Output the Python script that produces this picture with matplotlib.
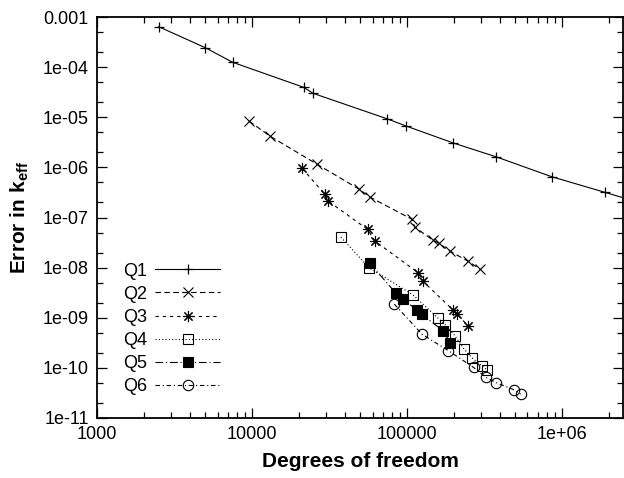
import matplotlib
matplotlib.use("Agg")
from matplotlib import pyplot as plt
from matplotlib.ticker import FixedLocator, FixedFormatter, LogLocator, NullFormatter

plt.rcParams['font.family'] = ['Liberation Sans', 'DejaVu Sans']
plt.rcParams['mathtext.fontset'] = 'custom'
plt.rcParams['mathtext.rm'] = 'Liberation Sans'
plt.rcParams['mathtext.bf'] = 'Liberation Sans:bold'

# values (dof, error in keff)
q1_dof = [2500, 5000, 7500, 21600, 24800, 74600, 98600, 197000, 375000, 861000, 1.9e6, 4.0e6]
q1_err = [6.4e-4, 2.44e-4, 1.25e-4, 3.95e-5, 3.0e-5, 9.3e-6, 6.7e-6, 3.1e-6, 1.63e-6, 6.5e-7, 3.17e-7, 1.6e-7]

q2_dof = [9570, 13060, 26250, 49000, 57700, 107200, 112600, 147200, 160800, 189400, 247600, 295800]
q2_err = [8.4e-6, 4.2e-6, 1.16e-6, 3.69e-7, 2.55e-7, 9.3e-8, 6.4e-8, 3.54e-8, 3.08e-8, 2.13e-8, 1.35e-8, 9.3e-9]

q3_dof = [21100, 29580, 31070, 55760, 62200, 118300, 126300, 199000, 211200, 248500]
q3_err = [9.55e-7, 2.89e-7, 2.12e-7, 5.78e-8, 3.38e-8, 7.9e-9, 5.4e-9, 1.42e-9, 1.18e-9, 6.8e-10]

q4_dof = [37500, 56900, 109800, 157800, 177100, 204100, 233200, 264600, 304700, 330600]
q4_err = [4.06e-8, 1.0e-8, 2.83e-9, 1.0e-9, 7.2e-10, 4.4e-10, 2.39e-10, 1.56e-10, 1.1e-10, 9.0e-11]

q5_dof = [57700, 84900, 94700, 116500, 124400, 171500, 190800]
q5_err = [1.21e-8, 3.1e-9, 2.33e-9, 1.4e-9, 1.17e-9, 5.5e-10, 3.1e-10]

q6_dof = [83000, 125000, 185300, 269300, 323300, 376800, 492400, 542100]
q6_err = [1.87e-9, 4.7e-10, 2.2e-10, 1.02e-10, 6.5e-11, 5.07e-11, 3.64e-11, 2.99e-11]

xticks = [1e3, 1e4, 1e5, 1e6]
xtick_labels = ["1000", "10000", "100000", "1e+06"]
yticks = [1e-11, 1e-10, 1e-9, 1e-8, 1e-7, 1e-6, 1e-5, 1e-4, 1e-3]
ytick_labels = ["1e-11", "1e-10", "1e-09", "1e-08", "1e-07", "1e-06", "1e-05", "1e-04", "0.001"]

fig = plt.figure(figsize=(6.24, 4.78), dpi=100)
ax = fig.add_axes([97/624, 1 - 418/478, 526/624, 401/478])

lw = 0.8
ax.plot(q1_dof, q1_err, color='k', lw=lw, ls='-', marker='+', ms=7, mew=0.9, label='Q1')
ax.plot(q2_dof, q2_err, color='k', lw=lw, ls=(0, (5, 3)), marker='x', ms=7.5, mew=0.8, label='Q2')
ax.plot(q3_dof, q3_err, color='k', lw=lw, ls=(0, (3, 3.5)), marker=(8, 2, 0), ms=8, mew=0.8, label='Q3')
ax.plot(q4_dof, q4_err, color='k', lw=lw, ls=(0, (1, 2)), marker='s', ms=7.5, mew=0.8, mfc='none', label='Q4')
ax.plot(q5_dof, q5_err, color='k', lw=lw, ls=(0, (7, 2.5, 1, 2.5)), marker='s', ms=7.5, mew=0.8, label='Q5')
ax.plot(q6_dof, q6_err, color='k', lw=lw, ls=(0, (4, 2.5, 1, 2.5)), marker='o', ms=7.5, mew=0.8, mfc='none', label='Q6')

ax.set_xscale('log')
ax.set_yscale('log')
ax.set_xlim(1000, 2.48e6)
ax.set_ylim(1e-11, 1e-3)

ax.xaxis.set_major_locator(FixedLocator(xticks))
ax.xaxis.set_major_formatter(FixedFormatter(xtick_labels))
ax.xaxis.set_minor_locator(LogLocator(base=10, subs=range(2, 10)))
ax.xaxis.set_minor_formatter(NullFormatter())
ax.yaxis.set_major_locator(FixedLocator(yticks))
ax.yaxis.set_major_formatter(FixedFormatter(ytick_labels))
ax.yaxis.set_minor_locator(LogLocator(base=10, subs=[2, 5]))
ax.yaxis.set_minor_formatter(NullFormatter())

ax.tick_params(which='both', direction='in', top=True, right=True, labelsize=13, width=0.9)
ax.tick_params(which='major', length=7, pad=6)
ax.tick_params(which='minor', length=4)
for s in ax.spines.values():
    s.set_linewidth(1.3)

ax.set_xlabel('Degrees of freedom', fontsize=15, fontweight='bold', labelpad=6)
ax.set_ylabel(r'Error in k$_\mathbf{eff}$', fontsize=15, fontweight='bold', labelpad=8)

ax.legend(loc='center left', bbox_to_anchor=(0.049, 0.222), frameon=False, markerfirst=False,
          fontsize=13, handlelength=3.6, handletextpad=0.45, labelspacing=0.34, borderpad=0,
          borderaxespad=0)

fig.savefig('out.png', dpi=100)
